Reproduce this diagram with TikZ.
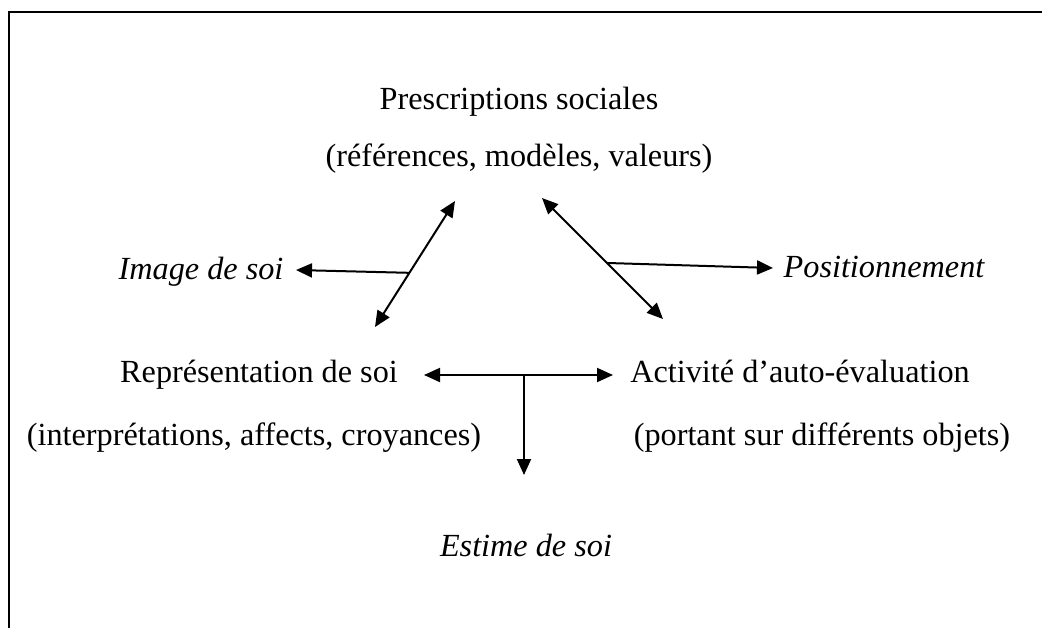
\documentclass[tikz,border=0pt]{standalone}
\usepackage{fontspec}
\setmainfont{Liberation Serif}
\usetikzlibrary{arrows.meta,positioning,calc}

\begin{document}
\begin{tikzpicture}[x=0.4pt,y=-0.4pt,
  txt/.style={inner sep=0pt,anchor=base,font=\fontsize{12.9}{15}\selectfont},
  itxt/.style={inner sep=0pt,anchor=base,font=\fontsize{12.9}{15}\selectfont\itshape},
  link/.style={line width=0.8pt,-{Triangle[length=6.4pt,width=5.6pt]}},
  dlink/.style={line width=0.8pt,{Triangle[length=6.4pt,width=5.6pt]}-{Triangle[length=6.4pt,width=5.6pt]}}]
\useasboundingbox (0,0) rectangle (1042,628);
% open frame
\draw [line width=1pt] (9,628) -- (9,12) -- (1042,12);
% texts
\node[txt] (presc) at (519,109) {Prescriptions sociales};
\node[txt] (prescsub) at (519,166) {(références, modèles, valeurs)};
\node[itxt] (image) at (201,279) {Image de soi};
\node[itxt] (posit) at (884,277) {Positionnement};
\node[txt] (repr) at (259,382) {Représentation de soi};
\node[txt] (reprsub) at (254,445) {(interprétations, affects, croyances)};
\node[txt] (activ) at (800,382) {Activité d’auto-évaluation};
\node[txt] (activsub) at (822,445) {(portant sur différents objets)};
\node[itxt] (estime) at (526,556) {Estime de soi};
% arrow ends
\coordinate (la) at (455,201);
\coordinate (lb) at (375,327);
\coordinate (lm) at ($(la)!0.57!(lb)$);
\coordinate (imgtip) at (296,270);
\coordinate (ra) at (542,198);
\coordinate (rb) at (663,319);
\coordinate (rm) at ($(ra)!0.537!(rb)$);
\coordinate (postip) at (773,268);
\coordinate (ha) at (424,375);
\coordinate (hb) at (613,375);
\coordinate (hm) at (524,375);
\coordinate (esttip) at (524,475);
% arrows
\draw [dlink] (la) -- (lb);
\draw [link] (lm) -- (imgtip);
\draw [dlink] (ra) -- (rb);
\draw [link] (rm) -- (postip);
\draw [dlink] (ha) -- (hb);
\draw [link] (hm) -- (esttip);
\end{tikzpicture}
\end{document}
